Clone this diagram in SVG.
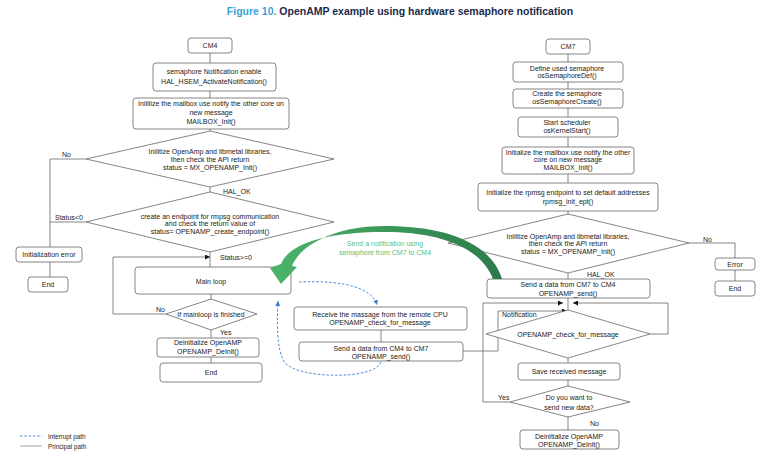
<svg xmlns="http://www.w3.org/2000/svg" width="773" height="453" viewBox="0 0 773 453">
<style>
.b{fill:#fff;stroke:#666;stroke-width:0.8}
.t{font-family:"Liberation Sans",Arial,sans-serif;font-size:7px;fill:#222;text-anchor:middle}
.l{font-family:"Liberation Sans",Arial,sans-serif;font-size:7px;fill:#222}
.c{fill:none;stroke:#666;stroke-width:0.8}
.d{fill:none;stroke:#3a7fd5;stroke-width:0.9;stroke-dasharray:2.5,1.8}
</style>
<defs>
<marker id="ah" viewBox="0 0 6 6" refX="6" refY="3" markerWidth="5" markerHeight="5" orient="auto" markerUnits="userSpaceOnUse"><path d="M0,0 L6,3 L0,6 z" fill="#111"/></marker>
<marker id="bh" viewBox="0 0 6 6" refX="6" refY="3" markerWidth="5" markerHeight="5" orient="auto" markerUnits="userSpaceOnUse"><path d="M0,0 L6,3 L0,6 z" fill="#3a7fd5"/></marker>
<linearGradient id="gg" x1="270" y1="0" x2="505" y2="0" gradientUnits="userSpaceOnUse"><stop offset="0" stop-color="#4cb46a"/><stop offset="1" stop-color="#2b7a4a"/></linearGradient>
</defs>

<text x="400" y="15" text-anchor="middle" font-family="Liberation Sans,Arial,sans-serif" font-size="10.5" font-weight="bold"><tspan fill="#3b9fd8">Figure 10.</tspan><tspan fill="#1c2b4d"> OpenAMP example using hardware semaphore notification</tspan></text>

<g id="connectors">
<path class="c" d="M210,53V63M210,91V98M210,129V131M210,187V192M210,252V267M211,294V299M211,330V338M211,357V363"/>
<path class="c" d="M86,159H50V247M86,222H50M50,262V277"/>
<path class="c" d="M166,314H113V257H210" marker-end="url(#ah)"/>
<path class="c" d="M381,330V342"/>
<path class="c" d="M463,351H498V311H567" marker-end="url(#ah)"/>
<path class="c" d="M568,54V62M568,82V89M568,108V117M568,137V147M568,174V183M568,211V214M568,273V279M568,298V310M568,358V363M568,380V386M568,416V430"/>
<path class="c" d="M689,243H735V258M735,270V281"/>
<path class="c" d="M510,402H483V303H563" marker-end="url(#ah)"/>
<path class="c" d="M650,334H668V303H573" marker-end="url(#ah)"/>
<path class="d" d="M299,282C345,280 372,288 377,305" marker-end="url(#bh)"/>
<path class="d" d="M381,362C375,380 300,379 285,363C276,350 277,320 278,301" marker-end="url(#bh)"/>
</g>

<g id="labels">
<text class="l" x="62" y="157">No</text>
<text class="l" x="223" y="194">HAL_OK</text>
<text class="l" x="55" y="220">Status&lt;0</text>
<text class="l" x="220" y="260">Status&gt;=0</text>
<text class="l" x="156" y="312">No</text>
<text class="l" x="220" y="335">Yes</text>
<text class="l" x="502" y="317">Notification</text>
<text class="l" x="703" y="242">No</text>
<text class="l" x="587" y="277">HAL_OK</text>
<text class="l" x="498" y="400">Yes</text>
<text class="l" x="590" y="426">No</text>
<text class="t" x="385" y="246" style="fill:#5cc07a">Send a notification using</text>
<text class="t" x="385" y="255" style="fill:#5cc07a">semaphore from CM7 to CM4</text>
</g>

<g id="cm4"><rect class="b" x="188" y="38" width="44" height="15" rx="3"/><text class="t" x="210" y="48">CM4</text></g>
<g id="hsem"><rect class="b" x="153" y="63" width="123" height="28" rx="3"/><text class="t" x="214" y="74">semaphore Notification enable</text><text class="t" x="214" y="84">HAL_HSEM_ActivateNotification()</text></g>
<g id="mbox4"><rect class="b" x="133" y="98" width="156" height="31" rx="3"/><text class="t" x="211" y="106">Inilitize the mailbox use notify the other core on</text><text class="t" x="211" y="115">new message</text><text class="t" x="211" y="124">MAILBOX_Init()</text></g>
<g id="dec1"><polygon class="b" points="210,131 334,159 210,187 86,159"/><text class="t" x="210" y="153.5">Inilitize OpenAmp and libmetal libraries,</text><text class="t" x="210" y="161.5">then check the API return</text><text class="t" x="210" y="169.5">status = MX_OPENAMP_Init()</text></g>
<g id="dec2"><polygon class="b" points="210,192 334,222 210,252 86,222"/><text class="t" x="210" y="218.5">create an endpoint for rmpsg communication</text><text class="t" x="210" y="226">and check the return value of</text><text class="t" x="210" y="233.5">status= OPENAMP_create_endpoint()</text></g>
<g id="initerr"><rect class="b" x="16" y="247" width="66" height="15" rx="3"/><text class="t" x="49" y="257">Initialization error</text></g>
<g id="end1"><rect class="b" x="28" y="277" width="40" height="15" rx="3"/><text class="t" x="48" y="287">End</text></g>
<g id="mainloop"><rect class="b" x="135" y="267" width="156" height="27" rx="3"/><text class="t" x="211" y="283.5">Main loop</text></g>
<g id="dec3"><polygon class="b" points="211,299 257,314 211,330 166,314"/><text class="t" x="211" y="316.5">If mainloop is finished</text></g>
<g id="deinit4"><rect class="b" x="157" y="338" width="102" height="19" rx="3"/><text class="t" x="208" y="344.5">Deinitialize OpenAMP</text><text class="t" x="208" y="353.5">OPENAMP_DeInit()</text></g>
<g id="end2"><rect class="b" x="160" y="363" width="102" height="19" rx="3"/><text class="t" x="211" y="374.5">End</text></g>
<g id="receive"><rect class="b" x="294" y="307" width="173" height="23" rx="3"/><text class="t" x="380" y="316.5">Receive the massage from the remote CPU</text><text class="t" x="380" y="324.5">OPENAMP_check_for_message</text></g>
<g id="send47"><rect class="b" x="299" y="342" width="164" height="19" rx="3"/><text class="t" x="381" y="350.5">Send a data from CM4 to CM7</text><text class="t" x="381" y="358.5">OPENAMP_send()</text></g>

<g id="cm7"><rect class="b" x="546" y="39" width="44" height="15" rx="3"/><text class="t" x="568" y="49">CM7</text></g>
<g id="semdef"><rect class="b" x="513" y="62" width="110" height="20" rx="3"/><text class="t" x="567" y="70.5">Define used semaphore</text><text class="t" x="567" y="78">osSemaphoreDef()</text></g>
<g id="semcreate"><rect class="b" x="513" y="89" width="110" height="19" rx="3"/><text class="t" x="567" y="96">Create the semaphore</text><text class="t" x="567" y="104">osSemaphoreCreate()</text></g>
<g id="sched"><rect class="b" x="518" y="117" width="100" height="20" rx="3"/><text class="t" x="567" y="124.5">Start scheduler</text><text class="t" x="567" y="132.5">osKernelStart()</text></g>
<g id="mbox7"><rect class="b" x="502" y="147" width="132" height="27" rx="3"/><text class="t" x="568" y="154.5">Initialize the mailbox use notify the other</text><text class="t" x="568" y="161.5">core on new message</text><text class="t" x="568" y="169.5">MAILBOX_Init()</text></g>
<g id="rpmsg"><rect class="b" x="478" y="183" width="180" height="28" rx="3"/><text class="t" x="568" y="194.5">Initialize the rpmsg endpoint to set default addresses</text><text class="t" x="568" y="203.5">rpmsg_init_ept()</text></g>
<g id="dec4"><polygon class="b" points="568,214 689,243 568,273 448,243"/><text class="t" x="568" y="238.5">Inilitize OpenAmp and libmetal libraries,</text><text class="t" x="568" y="245.5">then check the API return</text><text class="t" x="568" y="253.5">status = MX_OPENAMP_Init()</text></g>
<g id="error"><rect class="b" x="715" y="258" width="40" height="12" rx="3"/><text class="t" x="735" y="266.5">Error</text></g>
<g id="end3"><rect class="b" x="715" y="281" width="40" height="15" rx="3"/><text class="t" x="735" y="291">End</text></g>
<g id="send74"><rect class="b" x="487" y="279" width="163" height="19" rx="3"/><text class="t" x="568" y="286.5">Send a data from CM7 to CM4</text><text class="t" x="568" y="295.5">OPENAMP_send()</text></g>
<g id="check"><polygon class="b" points="568,310 650,334 568,358 486,334"/><text class="t" x="568" y="336.5">OPENAMP_check_for_message</text></g>
<g id="save"><rect class="b" x="518" y="363" width="102" height="17" rx="3"/><text class="t" x="569" y="374">Save received message</text></g>
<g id="dec5"><polygon class="b" points="568,386 630,402 568,417 510,402"/><text class="t" x="569" y="399.5">Do you want to</text><text class="t" x="569" y="410">send new data?</text></g>
<g id="deinit7"><rect class="b" x="520" y="430" width="99" height="19" rx="3"/><text class="t" x="569" y="438.5">Deinitialize OpenAMP</text><text class="t" x="569" y="446.5">OPENAMP_DeInit()</text></g>

<g id="notify-arrow">
<path d="M502,279C490,240 440,226 385,226C335,226 300,245 292,266L297,267L281,284L270,268L281,264C290,242 330,232 385,232C435,232 480,245 493,279Z" fill="url(#gg)"/>
</g>

<g id="legend">
<line x1="20" y1="436" x2="42" y2="436" class="d"/>
<text class="l" x="48" y="438.5" style="font-size:6.3px">Interrupt path</text>
<line x1="20" y1="446" x2="42" y2="446" stroke="#999" stroke-width="0.9"/>
<text class="l" x="48" y="448.5" style="font-size:6.3px">Principal path</text>
</g>
</svg>
